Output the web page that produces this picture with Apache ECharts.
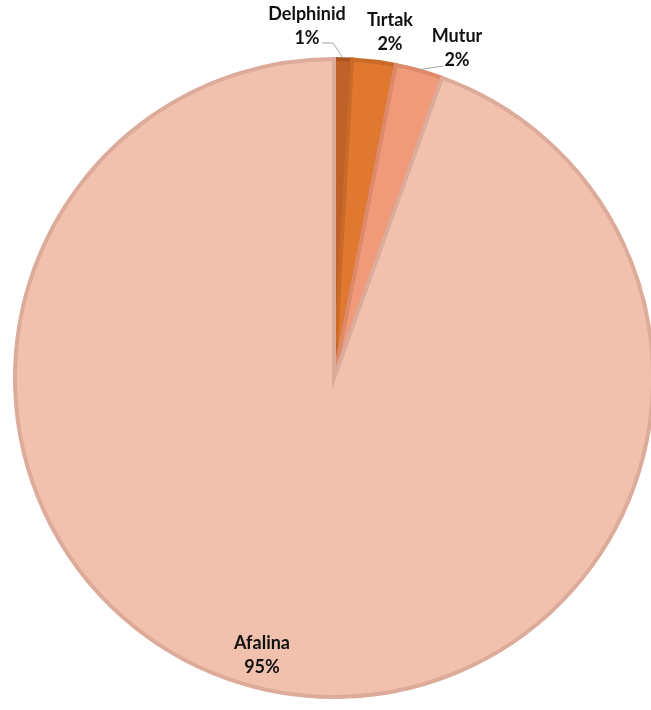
<!DOCTYPE html>
<html>
<head>
<meta charset="utf-8">
<style>
  html, body { margin: 0; padding: 0; background: #ffffff; }
  #chart { width: 651px; height: 710px; }
</style>
<script src="https://cdn.jsdelivr.net/npm/echarts@6/dist/echarts.min.js"></script>
</head>
<body>
<div id="chart"></div>
<script>
// Dolphin species share (clockwise from 12 o'clock)
const species = ['Delphinid', 'Tırtak', 'Mutur', 'Afalina'];
const shares = [0.9, 2.2, 2.4, 94.5];

// Slice fill and edge colours
const fillColors = ['#c0612a', '#e0782f', '#f09a7a', '#f2c1ae'];
const edgeColors = ['#a9541f', '#c96a28', '#dc8a6a', '#ddab9a'];

// Label block centres (x, y) in pixels
const labelSpots = [[307, 26], [390, 32], [457, 48], [262, 655]];

// Leader lines: where each starts beside its label, plus an optional knee
const leaderStarts = { 0: [[322, 43], [333, 43]], 2: [[443, 66]] };

const total = shares.reduce((a, b) => a + b, 0);
const CX = 334, CY = 378, R = 319;

// Point on the pie rim at the middle of a slice
function sliceRimPoint(idx, rr) {
  let before = 0;
  for (let i = 0; i < idx; i++) before += shares[i];
  const frac = (before + shares[idx] / 2) / total;
  const a = frac * 2 * Math.PI;
  return [CX + rr * Math.sin(a), CY - rr * Math.cos(a)];
}

const leaders = Object.keys(leaderStarts).map(k => {
  const idx = Number(k);
  const pts = leaderStarts[k].concat([sliceRimPoint(idx, R + 1)]);
  return {
    type: 'polyline',
    shape: { points: pts },
    style: { stroke: '#a6a6a6', lineWidth: 1, fill: null },
    z: 10
  };
});

const chart = echarts.init(document.getElementById('chart'), null, { renderer: 'canvas' });

chart.setOption({
  animation: false,
  backgroundColor: '#ffffff',
  graphic: leaders,
  series: [{
    type: 'pie',
    center: [CX, CY],
    radius: [0, R],
    startAngle: 90,
    clockwise: true,
    avoidLabelOverlap: false,
    data: species.map((name, i) => ({
      name: name,
      value: shares[i],
      itemStyle: { color: fillColors[i], borderColor: edgeColors[i] }
    })),
    itemStyle: { borderWidth: 4, borderJoin: 'miter' },
    label: {
      show: true,
      position: 'outside',
      formatter: p => p.name + '\n' + Math.round(p.value / total * 100 + 1e-9) + '%',
      fontFamily: 'Lato, "Open Sans", sans-serif',
      fontWeight: 'bold',
      fontSize: 18,
      lineHeight: 24,
      color: '#111111',
      align: 'center'
    },
    labelLine: { show: false },
    labelLayout: function (params) {
      const s = labelSpots[params.dataIndex];
      return { x: s[0], y: s[1], align: 'center', verticalAlign: 'middle' };
    }
  }]
});
</script>
</body>
</html>
